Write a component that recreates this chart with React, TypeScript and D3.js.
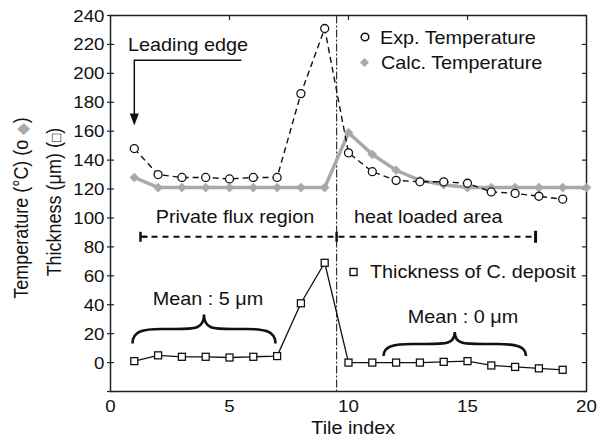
import React from 'react';
import * as d3 from 'd3';

// tile index for the measured tiles
const tiles = [1, 2, 3, 4, 5, 6, 7, 8, 9, 10, 11, 12, 13, 14, 15, 16, 17, 18, 19];
const calcTiles = [1, 2, 3, 4, 5, 6, 7, 8, 9, 10, 11, 12, 13, 14, 15, 16, 17, 18, 19, 20];

const expTemp = [148, 130, 128, 128, 127, 128, 128, 186, 231, 145, 132, 126, 125, 125, 124, 118, 117, 115, 113];
const calcTemp = [128, 121, 121, 121, 121, 121, 121, 121, 121, 159, 144, 133, 126, 123, 121, 121, 121, 121, 121, 121];
const thickness = [1, 5, 4, 4, 3.5, 4, 4.5, 41, 69, 0, 0, 0, 0, 0.5, 1, -2, -3, -4, -5];

const xTicks = [0, 5, 10, 15, 20];
const yTicks = [0, 20, 40, 60, 80, 100, 120, 140, 160, 180, 200, 220, 240];
const yTicksAll = [-20, ...yTicks];

const boundary = 9.5; // private flux / heat loaded border
const regionLevel = 87;
const regionStart = 1.26;
const regionEnd = 17.86;

const FONT = '"Liberation Sans", Arial, Helvetica, sans-serif';
const SX = 1.1; // the reference is slightly stretched horizontally
const GREY = '#a9a9a9';

const W = 608;
const H = 441;
const margin = { top: 15.5, right: 21.5, bottom: 49.5, left: 110.5 };

const T = ({ x, y, size = 18, anchor = 'start', children }: any) => (
  <text
    transform={`translate(${x},${y}) scale(${SX},1)`}
    textAnchor={anchor}
    fontSize={size}
    fontFamily={FONT}
    fill="#111"
  >
    {children}
  </text>
);

// curly brace opening downwards (ends down, cusp up)
const brace = (x1: number, x2: number, yTop: number, yEnd: number) => {
  const xm = (x1 + x2) / 2;
  const ym = yTop + (yEnd - yTop) * 0.5;
  const r = 18;
  return `M${x1},${yEnd} C${x1},${ym + 2} ${x1 + r * 0.6},${ym} ${x1 + 1.6 * r},${ym}
    L${xm - 1.6 * r},${ym} C${xm - r * 0.5},${ym} ${xm},${ym} ${xm},${yTop}
    C${xm},${ym} ${xm + r * 0.5},${ym} ${xm + 1.6 * r},${ym}
    L${x2 - 1.6 * r},${ym} C${x2 - r * 0.6},${ym} ${x2},${ym + 2} ${x2},${yEnd}`;
};

const App = () => {
  const x = d3.scaleLinear().domain([0, 20]).range([margin.left, W - margin.right]);
  const y = d3.scaleLinear().domain([-20, 240]).range([H - margin.bottom, margin.top]);

  const lineExp = d3.line<number>().x((_, i) => x(tiles[i])).y((d) => y(d))(expTemp) as string;
  const lineCalc = d3.line<number>().x((_, i) => x(calcTiles[i])).y((d) => y(d))(calcTemp) as string;
  const lineThk = d3.line<number>().x((_, i) => x(tiles[i])).y((d) => y(d))(thickness) as string;

  const x0 = x(0), x1 = x(20), yb = y(-20), yt = y(240);
  const diamond = (cx: number, cy: number, s = 4.8) =>
    `M${cx},${cy - s}L${cx + s},${cy}L${cx},${cy + s}L${cx - s},${cy}Z`;

  const ry = y(regionLevel);
  const arrowX = x(1);

  return (
    <div style={{ position: 'absolute', left: 0, top: 0 }}>
      <svg width={W} height={H} style={{ display: 'block', background: '#fff' }}>
        {/* frame */}
        <rect x={x0} y={yt} width={x1 - x0} height={yb - yt} fill="none" stroke="#222" strokeWidth={1.5} />
        {/* left ticks (crossing) */}
        {yTicksAll.map((t) => (
          <line key={'l' + t} x1={x0 - 3.5} x2={x0 + 3.5} y1={y(t)} y2={y(t)} stroke="#222" strokeWidth={1.2} />
        ))}
        {/* right ticks (inward) */}
        {yTicksAll.map((t) => (
          <line key={'r' + t} x1={x1 - 4.5} x2={x1} y1={y(t)} y2={y(t)} stroke="#222" strokeWidth={1.2} />
        ))}
        {/* top ticks */}
        {xTicks.slice(1, -1).map((t) => (
          <line key={'t' + t} x1={x(t)} x2={x(t)} y1={yt} y2={yt + 4.5} stroke="#222" strokeWidth={1.2} />
        ))}
        {yTicks.map((t) => (
          <T key={'yl' + t} x={x0 - 6} y={y(t) + 6} size={17} anchor="end">{t}</T>
        ))}
        {xTicks.map((t) => (
          <T key={'xl' + t} x={x(t)} y={412} size={17} anchor="middle">{t}</T>
        ))}
        <T x={x(10.2)} y={434} size={18} anchor="middle">Tile index</T>

        {/* y titles */}
        <text
          transform={`translate(28,208) scale(${SX},1) rotate(-90)`}
          textAnchor="middle" fontSize={18} fontFamily={FONT} fill="#111"
        >
          Temperature (°C) (o <tspan fill={GREY} fontSize={15}>◆</tspan>)
        </text>
        <text
          transform={`translate(61,202) scale(${SX},1) rotate(-90)`}
          textAnchor="middle" fontSize={18} fontFamily={FONT} fill="#111"
        >
          Thickness (μm) (<tspan fontSize={14}>□</tspan>)
        </text>

        {/* boundary line */}
        <line x1={x(boundary)} x2={x(boundary)} y1={yt} y2={yb} stroke="#333" strokeWidth={1.2} strokeDasharray="8,2,2,2" />

        {/* region bar */}
        <line x1={x(regionStart)} x2={x(regionEnd)} y1={ry} y2={ry} stroke="#111" strokeWidth={2.2} strokeDasharray="6,5" />
        <line x1={x(regionStart)} x2={x(regionStart)} y1={ry - 5} y2={ry + 5} stroke="#111" strokeWidth={2.5} />
        <line x1={x(regionStart)} x2={x(regionStart) + 7} y1={ry} y2={ry} stroke="#111" strokeWidth={2.2} />
        <line x1={x(boundary)} x2={x(boundary)} y1={ry - 5} y2={ry + 5} stroke="#111" strokeWidth={2.5} />
        <line x1={x(regionEnd)} x2={x(regionEnd)} y1={ry - 6} y2={ry + 6} stroke="#111" strokeWidth={3} />
        <T x={235} y={223} anchor="middle">Private flux region</T>
        <T x={354} y={223}>heat loaded area</T>

        {/* leading edge arrow */}
        <T x={128} y={50.5}>Leading edge</T>
        <path d={`M${x(5.5)},${y(209)} L${arrowX},${y(209)} L${arrowX},${y(164) - 10}`} fill="none" stroke="#111" strokeWidth={1.5} />
        <path d={`M${arrowX - 4.5},${y(164) - 12} L${arrowX + 4.5},${y(164) - 12} L${arrowX},${y(164)} Z`} fill="#111" />

        {/* calc temperature */}
        <path d={lineCalc} fill="none" stroke={GREY} strokeWidth={3.5} />
        {calcTemp.map((d, i) => (
          <path key={'c' + i} d={diamond(x(calcTiles[i]), y(d))} fill={GREY} />
        ))}

        {/* exp temperature */}
        <path d={lineExp} fill="none" stroke="#111" strokeWidth={1.4} strokeDasharray="6,4" />
        {expTemp.map((d, i) => (
          <circle key={'e' + i} cx={x(tiles[i])} cy={y(d)} r={4} fill="#fff" stroke="#111" strokeWidth={1.3} />
        ))}

        {/* thickness */}
        <path d={lineThk} fill="none" stroke="#111" strokeWidth={1.3} />
        {thickness.map((d, i) => (
          <rect key={'t' + i} x={x(tiles[i]) - 3.5} y={y(d) - 3.5} width={7} height={7} fill="#fff" stroke="#111" strokeWidth={1.3} />
        ))}

        {/* legends */}
        <circle cx={365} cy={37} r={3.8} fill="#fff" stroke="#111" strokeWidth={1.5} />
        <T x={380} y={43.5}>Exp. Temperature</T>
        <path d={diamond(364.5, 62.5, 4.5)} fill={GREY} />
        <T x={381} y={68.5}>Calc. Temperature</T>
        <rect x={350} y={268.5} width={7} height={7} fill="#fff" stroke="#111" strokeWidth={1.4} />
        <T x={370} y={278}>Thickness of C. deposit</T>

        {/* braces */}
        <path d={brace(132.5, 275.5, 314.5, 343.5)} fill="none" stroke="#111" strokeWidth={2.6} />
        <T x={208} y={305} anchor="middle">Mean : 5 μm</T>
        <path d={brace(383.5, 526, 332, 356)} fill="none" stroke="#111" strokeWidth={2.6} />
        <T x={463} y={323} anchor="middle">Mean : 0 μm</T>
      </svg>
    </div>
  );
};

export default App;
